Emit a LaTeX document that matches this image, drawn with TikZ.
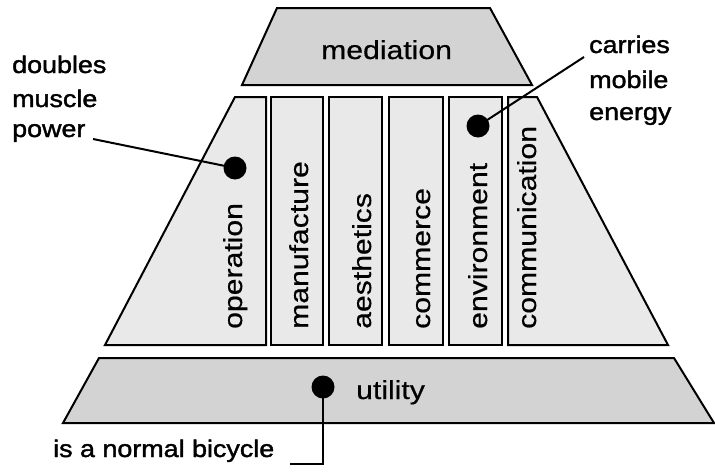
\documentclass[tikz,border=0pt]{standalone}
\usepackage{fontspec}
\setmainfont{Liberation Sans}
\newfontfamily\mainf{Liberation Sans}[FakeStretch=1.16,FakeBold=0.5]
\newfontfamily\labf{Liberation Sans}[FakeStretch=1.12,FakeBold=1.6]
\definecolor{gmid}{HTML}{D3D3D3}
\definecolor{glight}{HTML}{E9E9E9}
\begin{document}
\begin{tikzpicture}[x=1pt,y=-1pt,
  box/.style={draw=black,line width=2pt,line join=miter},
  dark/.style={box,fill=gmid},
  light/.style={box,fill=glight},
  mfont/.style={font=\mainf\fontsize{26}{30}\selectfont},
  vtext/.style={mfont,rotate=90,anchor=base west,inner sep=0pt},
  htext/.style={mfont,anchor=base west,inner sep=0pt},
  lab/.style={font=\labf\fontsize{24}{28}\selectfont,anchor=base west,inner sep=0pt},
  dot/.style={circle,fill=black,inner sep=0pt,minimum size=23pt},
  lead/.style={line width=2pt}]
\useasboundingbox (0,0) rectangle (715,474);
% top layer
\draw[dark] (277,8) -- (490,8) -- (532,85) -- (242,85) -- cycle;
\node[htext] (med) at (321,59) {mediation};
% middle layer
\draw[light] (235,97) -- (266,97) -- (266,345) -- (105,345) -- cycle;
\draw[light] (271,97) rectangle (323,345);
\draw[light] (329,97) rectangle (382,345);
\draw[light] (389,97) rectangle (443,345);
\draw[light] (449,97) rectangle (502,345);
\draw[light] (508,97) -- (537,97) -- (668,345) -- (508,345) -- cycle;
\node[vtext] (op) at (242,329) {operation};
\node[vtext] (ma) at (308,329) {manufacture};
\node[vtext] (ae) at (371,329) {aesthetics};
\node[vtext] (co) at (430,329) {commerce};
\node[vtext] (en) at (487,329) {environment};
\node[vtext] (cm) at (536,329) {communication};
% bottom layer
\draw[dark] (99,358) -- (674,358) -- (714,423) -- (63,423) -- cycle;
\node[htext] (ut) at (356,399) {utility};
% dots
\node[dot] (d1) at (235,168) {};
\node[dot] (d2) at (478,126) {};
\node[dot] (d3) at (323,387) {};
% labels
\node[lab] (l1a) at (12,73) {doubles};
\node[lab] (l1b) at (12,107) {muscle};
\node[lab] (l1c) at (12,137) {power};
\node[lab] (l2a) at (589,53) {carries};
\node[lab] (l2b) at (589,88) {mobile};
\node[lab] (l2c) at (589,120) {energy};
\node[lab] (l3) at (53,457) {is a normal bicycle};
% leaders
\coordinate (e1) at (93,139);
\coordinate (e2) at (584,57);
\coordinate (e3) at (290,464);
\draw[lead] (e1) -- (d1.center);
\draw[lead] (e2) -- (d2.center);
\draw[lead] (d3.center) |- (e3);
\end{tikzpicture}
\end{document}
